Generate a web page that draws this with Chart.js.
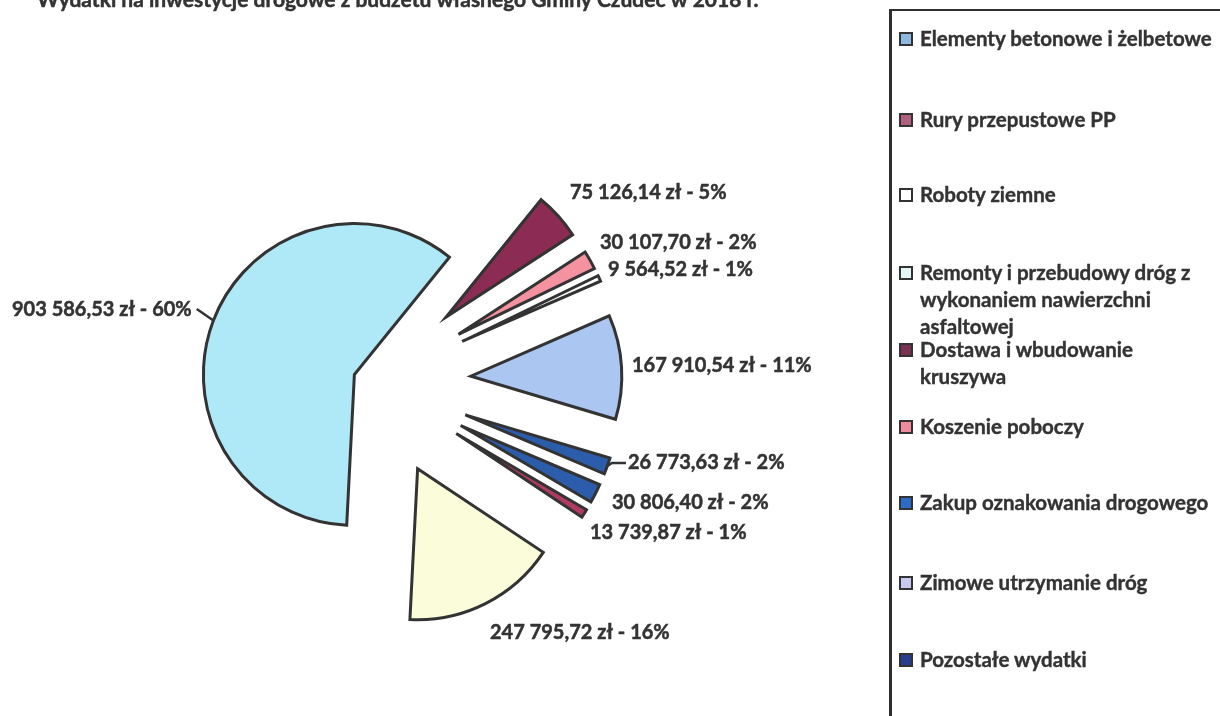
<!DOCTYPE html>
<html>
<head>
<meta charset="utf-8">
<script src="https://cdn.jsdelivr.net/npm/chart.js@4.4.1/dist/chart.umd.min.js"></script>
<style>
  html, body { margin:0; padding:0; background:#fff; width:1220px; height:716px; overflow:hidden; }
  #chart { position:absolute; left:0; top:0; }
  #legend { position:absolute; left:889px; top:9px; width:340px; height:720px;
            border-left:3px solid #2e2e2e; border-top:2px solid #2e2e2e; box-sizing:border-box; }
  .item { position:absolute; left:7px; font:bold 20.5px Lato, sans-serif; color:#333; line-height:27px;
          white-space:nowrap; -webkit-text-stroke:0.4px #333; }
  .box { position:absolute; left:0; top:7px; width:10px; height:10px; border:2px solid #333; }
  .txt { position:absolute; left:21px; top:0; }
</style>
</head>
<body>
<canvas id="chart" width="1220" height="716"></canvas>
<div id="legend"></div>
<script>
// ---- data (slices in clockwise drawing order) ----
const categories = [
  'Dostawa i wbudowanie kruszywa',
  'Koszenie poboczy',
  'Roboty ziemne',
  'Zimowe utrzymanie dróg',
  'Zakup oznakowania drogowego',
  'Pozostałe wydatki',
  'Rury przepustowe PP',
  'Elementy betonowe i żelbetowe',
  'Remonty i przebudowy dróg z wykonaniem nawierzchni asfaltowej'
];
const values = [75126.14, 30107.70, 9564.52, 167910.54, 26773.63, 30806.40, 13739.87, 247795.72, 903586.53];

// ---- legend (order as shown in the legend box) ----
const legendLabels = [
  'Elementy betonowe i żelbetowe',
  'Rury przepustowe PP',
  'Roboty ziemne',
  'Remonty i przebudowy dróg z\nwykonaniem nawierzchni\nasfaltowej',
  'Dostawa i wbudowanie\nkruszywa',
  'Koszenie poboczy',
  'Zakup oznakowania drogowego',
  'Zimowe utrzymanie dróg',
  'Pozostałe wydatki'
];
const titleText = 'Wydatki na inwestycje drogowe z budżetu własnego Gminy Czudec w 2018 r.';

// ---- styles / layout ----
const sliceColors = ['#8c2b53', '#f4939f', '#ffffff', '#abc7f1', '#2c5dab', '#2c5dab', '#b13a63', '#fbfcda', '#afe8f6'];
const legendColors = ['#8fb8e0', '#b0607e', '#ffffff', '#e4f6f6', '#7a3050', '#f08a9c', '#2a6cc8', '#c9c8ee', '#283c90'];
const legendTop = [14, 95, 170, 248, 325, 402, 478, 558, 635];
const explodePx = [97, 97, 97, 97, 97, 97, 97, 97, 21];
const R = 151;
const labelPos = [[570,193],[600,243],[608,270],[632,366],[628,463],[612,503],[590,533],[490,633],[12,310]];
const leader = [false,false,false,false,true,false,false,false,true];
const labelFont = 'bold 20px Lato, sans-serif';
const textColor = '#333';

function fmt(v) {
  const parts = v.toFixed(2).split('.');
  const int = parts[0].replace(/\B(?=(\d{3})+(?!\d))/g, ' ');
  return int + ',' + parts[1] + ' zł';
}
const total = values.reduce((a, b) => a + b, 0);
const labelTexts = values.map(v => fmt(v) + ' - ' + Math.round(v / total * 100) + '%');

// legend html
const lg = document.getElementById('legend');
legendLabels.forEach((t, i) => {
  const d = document.createElement('div');
  d.className = 'item';
  d.style.top = legendTop[i] + 'px';
  const b = document.createElement('div');
  b.className = 'box';
  b.style.background = legendColors[i];
  const s = document.createElement('div');
  s.className = 'txt';
  s.innerHTML = t.split('\n').join('<br>');
  d.appendChild(b); d.appendChild(s);
  lg.appendChild(d);
});

// explode: move each arc's centre outward along its mid angle
const explode = {
  id: 'explode',
  afterDatasetUpdate(chart, args) {
    args.meta.data.forEach((arc, i) => {
      const mid = (arc.startAngle + arc.endAngle) / 2;
      arc.x += Math.cos(mid) * explodePx[i];
      arc.y += Math.sin(mid) * explodePx[i];
    });
  }
};

function heavyText(ctx, txt, x, y) {
  ctx.lineWidth = 0.5;
  ctx.strokeText(txt, x, y);
  ctx.fillText(txt, x, y);
}

const labelsPlugin = {
  id: 'sliceLabels',
  afterDatasetsDraw(chart) {
    const ctx = chart.ctx;
    const meta = chart.getDatasetMeta(0);
    ctx.save();
    ctx.font = labelFont;
    ctx.fillStyle = textColor;
    ctx.strokeStyle = textColor;
    ctx.textBaseline = 'middle';
    ctx.textAlign = 'left';
    meta.data.forEach((arc, i) => {
      const [lx, ly] = labelPos[i];
      const txt = labelTexts[i];
      heavyText(ctx, txt, lx, ly);
      if (leader[i]) {
        const mid = (arc.startAngle + arc.endAngle) / 2;
        const px = arc.x + Math.cos(mid) * arc.outerRadius;
        const py = arc.y + Math.sin(mid) * arc.outerRadius;
        const w = ctx.measureText(txt).width;
        ctx.lineWidth = 2.5;
        ctx.beginPath();
        if (px < lx) {
          ctx.moveTo(px, py);
          ctx.lineTo(lx - 16, ly);
          ctx.lineTo(lx - 2, ly);
        } else {
          ctx.moveTo(lx + w + 5, ly - 1);
          ctx.lineTo(px, py);
        }
        ctx.stroke();
      }
    });
    // title (partly cut at top edge)
    ctx.textBaseline = 'alphabetic';
    ctx.font = 'bold 21px Lato, sans-serif';
    heavyText(ctx, titleText, 37, 7);
    ctx.restore();
  }
};

new Chart(document.getElementById('chart'), {
  type: 'pie',
  data: {
    labels: categories,
    datasets: [{
      data: values,
      backgroundColor: sliceColors,
      borderColor: '#333',
      borderWidth: 3,
      borderJoinStyle: 'miter',
      hoverOffset: 0
    }]
  },
  options: {
    responsive: false,
    animation: false,
    rotation: 39,
    radius: R,
    layout: { padding: { left: 0, right: 472, top: 48, bottom: 0 } },
    plugins: { legend: { display: false }, title: { display: false }, tooltip: { enabled: false } },
    events: []
  },
  plugins: [explode, labelsPlugin]
});
</script>
</body>
</html>
